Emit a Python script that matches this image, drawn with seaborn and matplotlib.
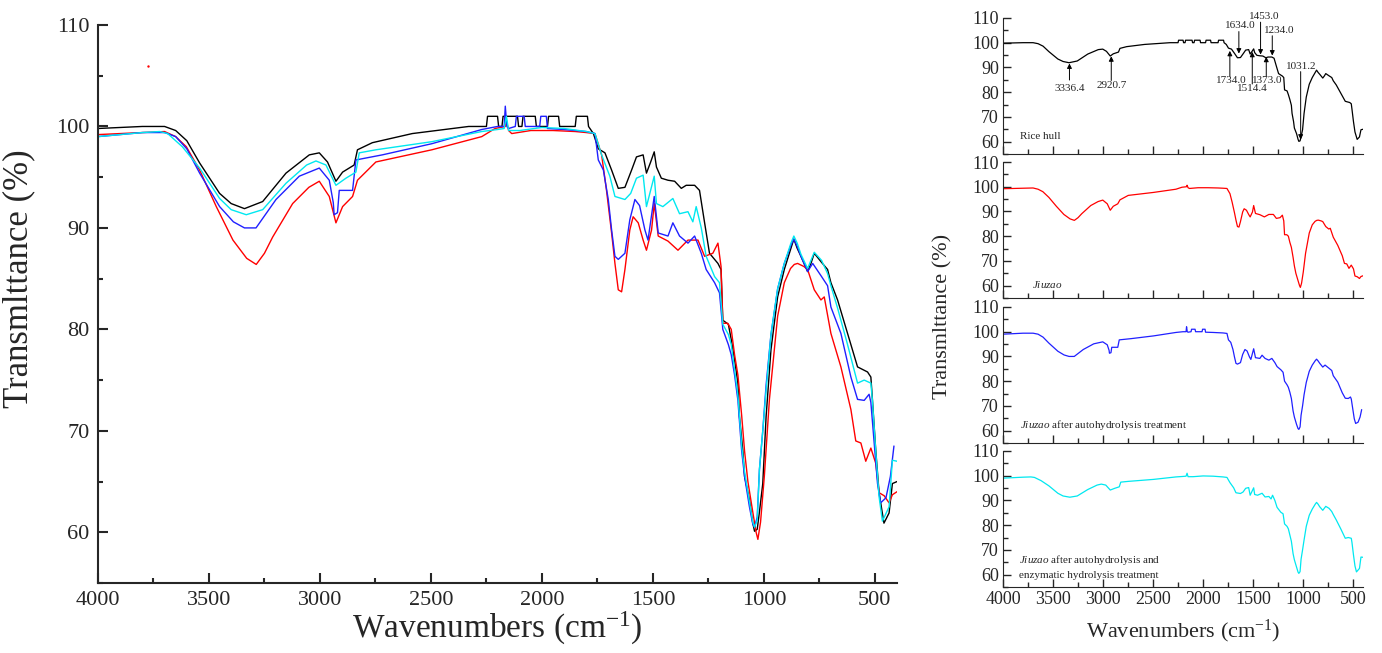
import numpy as np
import pandas as pd
import matplotlib.pyplot as plt
import seaborn as sns
from matplotlib.ticker import MultipleLocator

# FTIR spectra (wavenumber, transmittance %)
rice_wn = [4000, 3900, 3800, 3700, 3650, 3600, 3542, 3452, 3400, 3340, 3258, 3153, 3048, 3003, 2966,
           2928, 2898, 2846, 2831, 2764, 2584, 2330, 2250, 2245, 2200, 2195, 2180, 2175, 2110, 2105,
           2090, 2085, 2030, 2025, 1975, 1970, 1925, 1920, 1850, 1845, 1795, 1790, 1768, 1746, 1716,
           1686, 1656, 1626, 1596, 1574, 1544, 1529, 1510, 1494, 1484, 1462, 1432, 1402, 1372, 1350,
           1312, 1290, 1267, 1245, 1207, 1193, 1185, 1160, 1147, 1132, 1117, 1110, 1095, 1087, 1065,
           1050, 1042, 1030, 1020, 1005, 990, 968, 938, 908, 878, 865, 850, 833, 803, 788, 773, 740,
           713, 698, 668, 623, 578, 533, 518, 511, 496, 481, 459, 436, 421, 400]
rice_t = [99.8, 99.9, 100.0, 100.0, 99.6, 98.6, 96.4, 93.4, 92.4, 91.9, 92.6, 95.4, 97.2, 97.4, 96.5,
          94.6, 95.5, 96.2, 97.7, 98.4, 99.3, 100.0, 100.0, 101.0, 101.0, 100.0, 100.0, 101.0, 101.0, 100.0,
          100.0, 101.0, 101.0, 100.0, 100.0, 101.0, 101.0, 100.0, 100.0, 101.0, 101.0, 100.0, 99.3, 97.8, 97.4,
          95.7, 93.9, 94.0, 95.7, 97.0, 97.2, 95.4, 96.5, 97.5, 96.0, 94.9, 94.7, 94.6, 93.9, 94.2,
          94.2, 93.7, 90.5, 87.5, 86.5, 85.9, 80.9, 80.5, 79.0, 77.0, 74.7, 71.4, 68.1, 65.5, 63.2,
          60.9, 60.1, 60.3, 62.0, 64.8, 71.4, 78.0, 83.2, 85.9, 88.0, 88.9, 88.0, 87.2, 85.7, 86.5, 87.5, 86.6,
          85.9, 84.6, 82.9, 79.6, 76.3, 75.8, 75.3, 73.1, 68.1, 63.9, 60.9, 61.9, 64.8, 65.0]

jiuzao_wn = [4000, 3800, 3700, 3650, 3602, 3542, 3467, 3392, 3330, 3287, 3250, 3213, 3123, 3050, 3003,
             2958, 2928, 2898, 2853, 2831, 2748, 2496, 2271, 2211, 2165, 2160, 2150, 2136, 2050, 1950,
             1850, 1800, 1761, 1731, 1709, 1686, 1671, 1656, 1641, 1626, 1604, 1589, 1566, 1544, 1529,
             1506, 1494, 1476, 1432, 1387, 1342, 1297, 1267, 1230, 1207, 1193, 1185, 1163, 1147, 1132,
             1117, 1100, 1087, 1072, 1050, 1035, 1027, 1015, 998, 975, 938, 908, 880, 863, 848, 820,
             803, 773, 743, 728, 698, 653, 608, 586, 563, 541, 518, 496, 481, 458, 436, 421, 400]
jiuzao_t = [99.2, 99.4, 99.5, 99.0, 98.0, 95.7, 92.1, 88.8, 87.0, 86.4, 87.5, 89.1, 92.4, 94.0, 94.6,
            93.1, 90.5, 92.1, 93.1, 94.7, 96.5, 97.7, 99.0, 99.8, 100.0, 100.6, 99.6, 99.3, 99.6, 99.6,
            99.5, 99.4, 99.3, 97.2, 93.7, 89.5, 86.5, 83.9, 83.7, 85.9, 89.8, 91.1, 90.5, 88.8, 87.8,
            89.8, 92.4, 89.2, 88.7, 87.8, 88.8, 88.8, 87.2, 87.5, 88.5, 86.2, 80.6, 80.6, 80.0, 77.5,
            75.5, 71.5, 68.0, 65.0, 62.0, 60.0, 59.3, 61.0, 65.5, 73.1, 81.3, 84.6, 86.0, 86.4, 86.5, 86.2,
            85.9, 83.9, 82.9, 83.2, 79.6, 76.3, 72.1, 69.0, 68.8, 67.0, 68.3, 66.8, 63.9, 63.6, 62.9, 63.7, 64.0]

auto_wn = [4000, 3800, 3700, 3650, 3600, 3542, 3452, 3390, 3340, 3288, 3198, 3093, 3003, 2958, 2940,
           2936, 2921, 2913, 2853, 2838, 2719, 2496, 2271, 2200, 2170, 2165, 2158, 2150, 2120, 2115,
           2080, 2075, 2010, 2005, 1980, 1975, 1900, 1800, 1761, 1746, 1723, 1701, 1686, 1671, 1656,
           1626, 1604, 1581, 1560, 1536, 1522, 1494, 1476, 1432, 1410, 1380, 1342, 1312, 1282, 1260,
           1222, 1200, 1185, 1160, 1147, 1132, 1117, 1100, 1087, 1065, 1050, 1042, 1030, 1020, 1005,
           990, 968, 938, 908, 878, 865, 850, 833, 803, 780, 740, 713, 698, 653, 608, 578, 548, 526,
           518, 500, 488, 474, 450, 430, 414]
auto_t = [99.0, 99.4, 99.4, 99.0, 97.8, 95.4, 92.1, 90.6, 90.0, 90.0, 92.8, 95.1, 95.9, 94.7, 92.5,
          91.3, 91.5, 93.7, 93.7, 96.7, 97.2, 98.3, 99.7, 100.0, 100.0, 102.0, 100.0, 99.8, 100.0, 101.0,
          101.0, 100.0, 100.0, 101.0, 101.0, 99.8, 99.7, 99.5, 99.3, 96.7, 95.7, 92.8, 89.8, 87.2, 86.9,
          87.5, 90.8, 92.8, 92.2, 89.8, 88.8, 93.1, 89.5, 89.2, 90.5, 89.2, 88.5, 89.2, 87.5, 85.9,
          84.6, 83.6, 80.0, 78.5, 77.5, 75.5, 73.0, 68.0, 65.5, 62.5, 60.8, 60.5, 61.5, 66.2, 70.0,
          74.5, 79.5, 84.0, 86.5, 88.3, 88.9, 88.2, 87.2, 85.7, 86.5, 85.2, 84.3, 82.2, 79.6, 75.3, 73.1, 73.0, 73.6,
          72.8, 68.0, 64.8, 62.9, 63.4, 65.5, 68.5]

enz_wn = [4000, 3800, 3722, 3686, 3620, 3542, 3452, 3400, 3332, 3258, 3153, 3060, 3018, 2973, 2928,
          2883, 2838, 2823, 2748, 2496, 2271, 2200, 2170, 2160, 2150, 2100, 2000, 1900, 1800, 1761,
          1731, 1694, 1671, 1626, 1600, 1574, 1544, 1529, 1494, 1484, 1455, 1410, 1380, 1342, 1320,
          1305, 1282, 1260, 1222, 1200, 1185, 1160, 1147, 1132, 1117, 1100, 1087, 1065, 1050, 1042,
          1030, 1020, 1005, 990, 968, 938, 908, 878, 865, 850, 833, 803, 788, 773, 740, 713, 698, 668,
          623, 578, 548, 518, 511, 496, 481, 466, 436, 421, 400]
enz_t = [99.0, 99.4, 99.5, 99.3, 98.0, 95.9, 92.9, 91.8, 91.3, 91.8, 94.4, 96.2, 96.6, 96.2, 94.2,
         94.9, 95.5, 97.4, 97.7, 98.5, 99.5, 99.7, 99.8, 101.0, 99.6, 99.6, 99.9, 99.8, 99.5, 99.3,
         97.2, 95.1, 93.1, 92.8, 93.4, 94.9, 95.2, 92.1, 95.1, 92.4, 92.1, 92.9, 91.4, 91.6, 90.6,
         92.1, 90.0, 87.2, 85.2, 84.6, 80.5, 79.5, 78.5, 76.0, 73.5, 68.5, 66.0, 63.0, 61.0, 60.5,
         61.2, 66.2, 70.0, 74.0, 79.5, 84.0, 86.5, 88.5, 89.2, 88.5, 87.4, 86.0, 86.8, 87.6, 86.8, 85.5, 84.3, 82.1,
         78.5, 74.7, 75.0, 74.7, 73.0, 68.0, 63.5, 61.1, 62.5, 67.1, 67.0]

# stray red dot in the big panel
stray_wn = [3775]
stray_t = [106.0]

# peak labels in the rice hull panel
peak_labels = ["3336.4", "2920.7", "1734.0", "1634.0", "1514.4", "1453.0", "1373.0", "1234.0", "1031.2"]
peak_arrow_x = [3336, 2918, 1732, 1642, 1508, 1425, 1368, 1308, 1024]
peak_tip = [91.6, 94.5, 96.7, 95.6, 96.3, 95.2, 94.3, 94.8, 60.8]
peak_tail = [84.9, 84.7, 86.4, 104.5, 83.3, 108.3, 86.5, 102.8, 88.3]
peak_text_x = [3329, 2911, 1719, 1625, 1508, 1392, 1359, 1241, 1018]
peak_text_y = [81.3, 82.7, 84.6, 106.8, 81.3, 110.5, 84.6, 104.9, 90.5]

panel_text = ["Rice hull", r"$\it{Jiuzao}$",
              r"$\it{Jiuzao}$ after autohydrolysis treatment",
              r"$\it{Jiuzao}$ after autohydrolysis and" + "\nenzymatic hydrolysis treatment"]
colors = ["#000000", "#ff0000", "#2020ff", "#00e8f0"]
spectra = [(rice_wn, rice_t), (jiuzao_wn, jiuzao_t), (auto_wn, auto_t), (enz_wn, enz_t)]

sns.set_style("ticks")
plt.rcParams["font.family"] = ["Liberation Serif", "DejaVu Serif"]
plt.rcParams["mathtext.fontset"] = "custom"
plt.rcParams["mathtext.rm"] = "Liberation Serif"
plt.rcParams["mathtext.it"] = "Liberation Serif:italic"

fig = plt.figure(figsize=(13.82, 6.53), dpi=100)

# big overlay panel
ax = fig.add_axes([0.0709, 0.1072, 0.5782, 0.8545])
for (wn, t), c in zip(spectra, colors):
    df = pd.DataFrame({"wn": wn, "t": t})
    sns.lineplot(data=df, x="wn", y="t", color=c, lw=1.0, ax=ax, sort=False, estimator=None)
sns.scatterplot(x=stray_wn, y=stray_t, color="red", s=3, linewidth=0, ax=ax)
ax.set_xlim(4000, 400)
ax.set_ylim(55, 110)
ax.xaxis.set_major_locator(MultipleLocator(500))
ax.xaxis.set_minor_locator(MultipleLocator(250))
ax.yaxis.set_major_locator(MultipleLocator(10))
ax.yaxis.set_minor_locator(MultipleLocator(5))
ax.tick_params(which="both", direction="in", width=1.5, labelsize=16, pad=6)
ax.tick_params(which="major", length=7)
ax.tick_params(which="minor", length=3.5)
for s in ["left", "bottom"]:
    ax.spines[s].set_linewidth(1.5)
sns.despine(ax=ax)
ax.set_xlabel("Wavenumbers (cm$^{-1}$)", fontsize=24, labelpad=0)
ax.set_ylabel("Transmlttance (%)", fontsize=25)
ax.yaxis.set_label_coords(-0.079, 0.545)

# four stacked panels
bottoms = [0.7642, 0.5436, 0.3216, 0.1011]
label_y = [0.125, 0.10, 0.13, 0.15]
label_x = [0.048, 0.08, 0.048, 0.045]
for i, ((wn, t), c) in enumerate(zip(spectra, colors)):
    a = fig.add_axes([0.7258, bottoms[i], 0.2605, 0.2083])
    df = pd.DataFrame({"wn": wn, "t": t})
    sns.lineplot(data=df, x="wn", y="t", color=c, lw=0.9, ax=a, sort=False, estimator=None)
    a.set_xlim(4000, 400)
    a.set_ylim(55, 110)
    a.xaxis.set_major_locator(MultipleLocator(500))
    a.xaxis.set_minor_locator(MultipleLocator(250))
    a.yaxis.set_major_locator(MultipleLocator(10))
    a.yaxis.set_minor_locator(MultipleLocator(5))
    a.tick_params(which="both", direction="in", width=1.0, labelsize=13, pad=3)
    a.tick_params(which="major", length=6)
    a.tick_params(which="minor", length=3.5)
    sns.despine(ax=a)
    a.set_ylabel("")
    if i < 3:
        a.set_xlabel("")
        a.tick_params(axis="x", labelbottom=False)
    else:
        a.set_xlabel("Wavenumbers (cm$^{-1}$)", fontsize=16, labelpad=7)
    a.text(label_x[i], label_y[i], panel_text[i], transform=a.transAxes,
           fontsize=8, ha="left", va="center", linespacing=1.5)
    if i == 0:
        for lab, ax_x, tip, tail, tx, tyv in zip(peak_labels, peak_arrow_x, peak_tip, peak_tail,
                                                 peak_text_x, peak_text_y):
            a.annotate("", xy=(ax_x, tip), xytext=(ax_x, tail),
                       arrowprops=dict(arrowstyle="-|>", color="black", lw=0.7, mutation_scale=7,
                                       shrinkA=0, shrinkB=0))
            a.text(tx, tyv, lab, fontsize=8, ha="center", va="center")

fig.text(0.682, 0.516, "Transmlttance (%)", rotation=90, fontsize=16, ha="center", va="center")

fig.savefig("out.png", dpi=100)
